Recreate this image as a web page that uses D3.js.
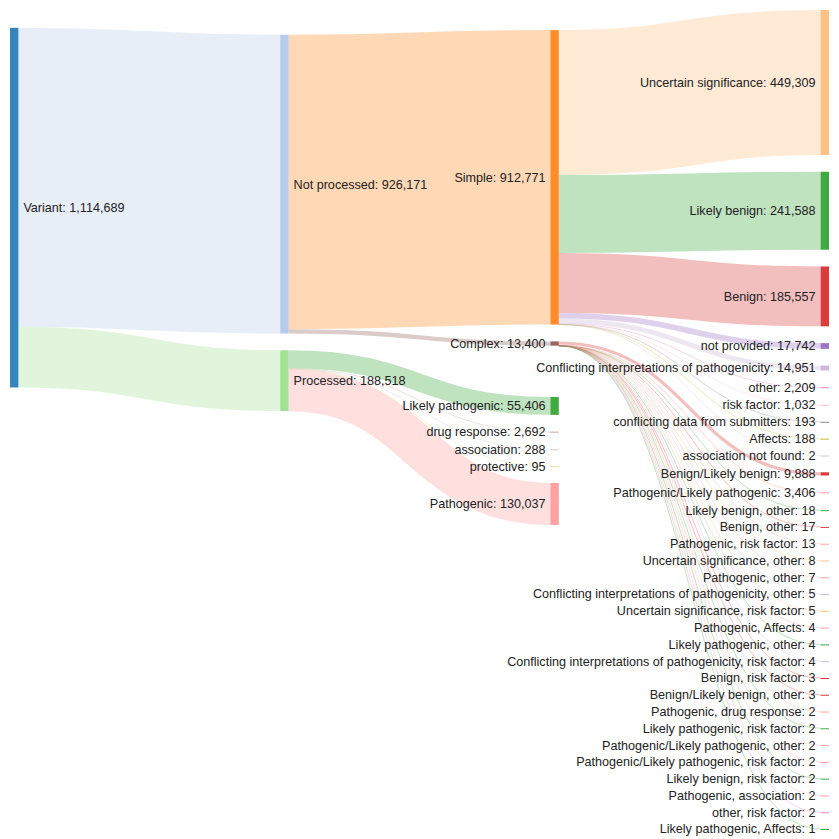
<!DOCTYPE html>
<html><head><meta charset="utf-8">
<script src="https://cdn.jsdelivr.net/npm/d3@7"></script>
<style>
body{margin:0;background:#fff;}
svg{display:block;}
text{font-family:"Liberation Sans",Arial,Helvetica,sans-serif;}
</style>
</head><body>
<svg id="chart" width="839" height="839"></svg>
<script>
// ---------------- DATA ----------------
const linkSources = [
  "Variant","Variant","Not processed","Not processed",
  "Processed","Processed","Processed","Processed","Processed",
  "Simple","Simple","Simple","Simple","Simple","Simple","Simple","Simple","Simple","Simple",
  "Complex","Complex","Complex","Complex","Complex","Complex","Complex","Complex","Complex","Complex",
  "Complex","Complex","Complex","Complex","Complex","Complex","Complex","Complex","Complex","Complex","Complex","Complex"
];
const linkTargets = [
  "Not processed","Processed","Simple","Complex",
  "Likely pathogenic","drug response","association","protective","Pathogenic",
  "Uncertain significance","Likely benign","Benign","not provided",
  "Conflicting interpretations of pathogenicity","other","risk factor",
  "conflicting data from submitters","Affects","association not found",
  "Benign/Likely benign","Pathogenic/Likely pathogenic","Likely benign, other","Benign, other",
  "Pathogenic, risk factor","Uncertain significance, other","Pathogenic, other",
  "Conflicting interpretations of pathogenicity, other","Uncertain significance, risk factor",
  "Pathogenic, Affects","Likely pathogenic, other",
  "Conflicting interpretations of pathogenicity, risk factor","Benign, risk factor",
  "Benign/Likely benign, other","Pathogenic, drug response","Likely pathogenic, risk factor",
  "Pathogenic/Likely pathogenic, other","Pathogenic/Likely pathogenic, risk factor",
  "Likely benign, risk factor","Pathogenic, association","other, risk factor",
  "Likely pathogenic, Affects"
];
const linkValues = [
  926171,188518,912771,13400,
  55406,2692,288,95,130037,
  449309,241588,185557,17742,14951,2209,1032,193,188,2,
  9888,3406,18,17,13,8,7,5,5,4,4,4,3,3,2,2,2,2,2,2,2,1
];
// colour groups (first word of a node name) and their palette
const colorKeys = ["Variant","Not","Simple","Uncertain","Likely","Processed","Benign","Pathogenic",
  "not","Conflicting","Complex","drug","other","risk","conflicting","association","Affects","protective"];
const palette = ["#1f77b4","#aec7e8","#ff7f0e","#ffbb78","#2ca02c","#98df8a","#d62728","#ff9896",
  "#9467bd","#c5b0d5","#8c564b","#c49c94","#e377c2","#f7b6d2","#7f7f7f","#c7c7c7","#bcbd22","#dbdb8d"];

// ---------------- LAYOUT SETTINGS ----------------
const W = 839, S = 0.839;
const X0 = 10, Y0 = 10, X1 = 829, Y1 = 829;
const DX = 10 * S, PY = 20 * S;
const FONT = 12.6, LABEL_OFF = 5, LABEL_GAP = 2 * FONT;

const fmt = d3.format(",");
const labelOf = n => `${n.name}: ${fmt(n.value)}`;

function buildGraph() {
  const names = [];
  linkSources.forEach((s, i) => { if (!names.includes(s)) names.push(s); if (!names.includes(linkTargets[i])) names.push(linkTargets[i]); });
  const nodes = names.map((name, i) => ({name, index: i, sourceLinks: [], targetLinks: []}));
  const byName = new Map(nodes.map(n => [n.name, n]));
  const links = linkValues.map((v, i) => {
    const l = {index: i, value: v, source: byName.get(linkSources[i]), target: byName.get(linkTargets[i])};
    l.source.sourceLinks.push(l); l.target.targetLinks.push(l);
    return l;
  });
  nodes.forEach(n => n.value = Math.max(d3.sum(n.sourceLinks, l => l.value), d3.sum(n.targetLinks, l => l.value)));
  let cur = nodes, x = 0;
  for (; cur.length; ++x) {
    const next = [];
    cur.forEach(n => { n.depth = x; n.sourceLinks.forEach(l => { if (!next.includes(l.target)) next.push(l.target); }); });
    cur = next;
  }
  const xScale = d3.scaleLinear().domain([0, x - 1]).range([X0, X1 - DX]);
  nodes.forEach(n => { n.layer = n.depth; n.x0 = xScale(n.layer); n.x1 = n.x0 + DX; });
  const columns = [];
  nodes.forEach(n => { (columns[n.layer] = columns[n.layer] || []).push(n); });
  return {nodes, links, columns};
}
const asc = (a, b) => a.y0 - b.y0;
const ascT = (a, b) => asc(a.target, b.target) || a.index - b.index;
const ascS = (a, b) => asc(a.source, b.source) || a.index - b.index;
const center = n => (n.y0 + n.y1) / 2;

function resolveColumn(col) {
  let node, dy, y = Y0, n = col.length, i;
  for (i = 0; i < n; ++i) { node = col[i]; dy = y - node.y0; if (dy > 0) { node.y0 += dy; node.y1 += dy; } y = node.y1 + PY; }
  dy = y - PY - Y1;
  if (dy > 0) {
    y = (node.y0 -= dy); node.y1 -= dy;
    for (i = n - 2; i >= 0; --i) { node = col[i]; dy = node.y1 + PY - y; if (dy > 0) { node.y0 -= dy; node.y1 -= dy; } y = node.y0; }
  }
}

// relaxation: each node moves toward the value-weighted centre of all its neighbours
function layoutSankey(g, iterations, alphaDecay) {
  const {nodes, links, columns} = g;
  const ky = d3.min(columns, c => (Y1 - Y0 - (c.length - 1) * PY) / d3.sum(c, n => n.value));
  const hScale = d3.scaleLinear().domain([0, 1]).range([0, ky]);
  columns.forEach(c => c.forEach((n, i) => { n.y0 = i; n.y1 = i + hScale(n.value); }));
  links.forEach(l => l.width = hScale(l.value));
  const resolve = () => columns.forEach(resolveColumn);
  function relax(order, alpha) {
    order.forEach(col => col.forEach(node => {
      let num = 0, den = 0;
      node.targetLinks.forEach(l => { num += center(l.source) * l.value; den += l.value; });
      node.sourceLinks.forEach(l => { num += center(l.target) * l.value; den += l.value; });
      if (den > 0) { const dy = (num / den - center(node)) * alpha; node.y0 += dy; node.y1 += dy; }
    }));
  }
  resolve();
  let alpha = 1;
  for (let k = 0; k < iterations; ++k) {
    alpha *= alphaDecay;
    relax(columns.slice().reverse(), alpha); resolve();
    relax(columns, alpha); resolve();
  }
}

// keep labels of facing columns from colliding
function separateLabels(g, measure) {
  const {columns} = g;
  const box = n => {
    const w = measure(labelOf(n));
    return n.x0 < W / 2 ? [n.x1 + LABEL_OFF, n.x1 + LABEL_OFF + w] : [n.x0 - LABEL_OFF - w, n.x0 - LABEL_OFF];
  };
  for (let c = 1; c < columns.length; ++c) {
    const prev = columns[c - 1].filter(n => n.x0 < W / 2);
    let moved = false;
    columns[c].forEach(b => {
      if (b.x0 < W / 2) return;
      const bb = box(b);
      prev.forEach(a => {
        const ab = box(a);
        const overlap = bb[0] < ab[1] + 4 && ab[0] < bb[1] + 4;
        if (overlap && Math.abs(center(b) - center(a)) < LABEL_GAP) {
          const dy = center(a) + LABEL_GAP - center(b);
          if (dy > 0) { b.y0 += dy; b.y1 += dy; moved = true; }
        }
      });
    });
    if (moved) resolveColumn(columns[c]);
  }
}

function linkBreadths(g) {
  g.nodes.forEach(n => { n.sourceLinks.sort(ascT); n.targetLinks.sort(ascS); });
  g.nodes.forEach(n => {
    let a = n.y0, b = n.y0;
    n.sourceLinks.forEach(l => { l.y0 = a + l.width / 2; a += l.width; });
    n.targetLinks.forEach(l => { l.y1 = b + l.width / 2; b += l.width; });
  });
}

const svg = d3.select("#chart");
const probe = svg.append("text").attr("font-size", FONT).attr("visibility", "hidden");
const measure = s => probe.text(s).node().getComputedTextLength();

const graph = buildGraph();
layoutSankey(graph, 1, 0.99);
separateLabels(graph, measure);
linkBreadths(graph);
probe.remove();

// ---------------- DRAW ----------------
const color = d3.scaleOrdinal().domain(colorKeys).range(palette);
const keyOf = name => name.replace(/[^A-Za-z].*$/, "");

svg.append("g").attr("fill", "none")
  .selectAll("path").data(graph.links).join("path")
  .attr("d", d3.linkHorizontal().source(l => [l.source.x1, l.y0]).target(l => [l.target.x0, l.y1]))
  .attr("stroke", l => color(keyOf(l.target.name)))
  .attr("stroke-opacity", 0.3)
  .attr("stroke-width", l => Math.max(1, l.width));

svg.append("g").selectAll("rect").data(graph.nodes).join("rect")
  .attr("x", n => n.x0).attr("y", n => n.y0)
  .attr("width", n => n.x1 - n.x0).attr("height", n => Math.max(1, n.y1 - n.y0))
  .attr("fill", n => color(keyOf(n.name)))
  .attr("fill-opacity", 0.9);

svg.append("g").attr("font-size", FONT).attr("fill", "#222")
  .selectAll("text").data(graph.nodes).join("text")
  .attr("x", n => n.x0 < W / 2 ? n.x1 + LABEL_OFF : n.x0 - LABEL_OFF)
  .attr("y", n => center(n))
  .attr("dy", "0.35em")
  .attr("text-anchor", n => n.x0 < W / 2 ? "start" : "end")
  .text(labelOf);
</script>
</body></html>
